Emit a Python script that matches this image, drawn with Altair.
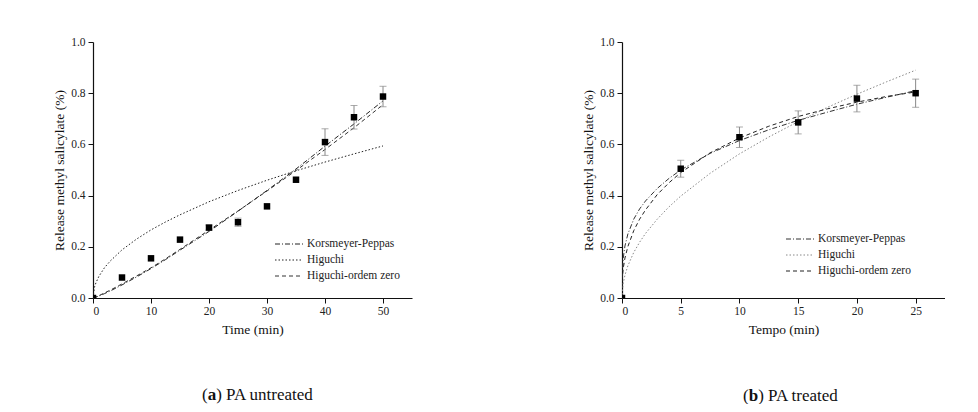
import altair as alt
import pandas as pd

FONT = "Liberation Serif"

# ---------- Panel (a): PA untreated ----------
t_a = [0, 5, 10, 15, 20, 25, 30, 35, 40, 45, 50]
y_a = [0.0, 0.080, 0.155, 0.228, 0.275, 0.296, 0.358, 0.462, 0.609, 0.706, 0.787]
err_a = [0.0, 0.0, 0.0, 0.0, 0.010, 0.016, 0.0, 0.0, 0.052, 0.046, 0.040]

tc_a = [0, 0.25, 0.5, 1, 2, 3, 5, 7.5, 10, 12.5, 15, 20, 25, 30, 35, 40, 45, 50]
kp_a = [0.0, 0.0015, 0.0034, 0.0076, 0.0173, 0.0279, 0.051, 0.082, 0.115, 0.150,
        0.187, 0.260, 0.339, 0.420, 0.504, 0.593, 0.680, 0.770]
hig_a = [0.0, 0.042, 0.059, 0.084, 0.119, 0.145, 0.188, 0.230, 0.266, 0.297,
         0.325, 0.376, 0.420, 0.460, 0.497, 0.531, 0.563, 0.594]
hoz_a = [0.0, 0.002, 0.004, 0.009, 0.020, 0.031, 0.055, 0.086, 0.118, 0.153,
         0.190, 0.265, 0.340, 0.418, 0.498, 0.580, 0.665, 0.755]

# ---------- Panel (b): PA treated ----------
t_b = [0, 5, 10, 15, 20, 25]
y_b = [0.0, 0.505, 0.628, 0.686, 0.779, 0.800]
err_b = [0.0, 0.033, 0.040, 0.045, 0.052, 0.055]

tc_b = [0, 0.02, 0.1, 0.25, 0.5, 1, 1.5, 2, 3, 4, 5, 7.5, 10, 12.5, 15, 17.5, 20, 22.5, 25]
kp_b = [0.0, 0.095, 0.154, 0.203, 0.250, 0.308, 0.348, 0.379, 0.428, 0.467, 0.500,
        0.565, 0.615, 0.657, 0.694, 0.726, 0.757, 0.784, 0.810]
hig_b = [0.0, 0.025, 0.056, 0.089, 0.126, 0.178, 0.218, 0.252, 0.308, 0.356, 0.398,
         0.487, 0.563, 0.629, 0.689, 0.745, 0.796, 0.844, 0.890]
hoz_b = [0.04, 0.074, 0.114, 0.156, 0.201, 0.263, 0.308, 0.344, 0.404, 0.450, 0.490,
         0.567, 0.625, 0.671, 0.709, 0.739, 0.765, 0.787, 0.805]

models = ["Korsmeyer-Peppas", "Higuchi", "Higuchi-ordem zero"]
y_ticks = [0.0, 0.2, 0.4, 0.6, 0.8, 1.0]
y_title = "Release methyl salicylate (%)"

DASHES = {"Korsmeyer-Peppas": [5, 2, 1, 2], "Higuchi": [1.5, 2], "Higuchi-ordem zero": [4, 3]}

AX = dict(grid=False, tickSize=5, domainColor="#111", tickColor="#111", domainWidth=1.2,
          labelFont=FONT, titleFont=FONT, labelFontSize=11.5, titleFontSize=13.5,
          titleFontWeight="normal", labelColor="#222", titleColor="#111")


def panel(t_pts, y_pts, err_pts, t_curve, curves, colors, xmax, xticks, xtitle,
          W, H, leg_x, leg_y, cap_x, cap_y, letter, rest):
    x_scale = alt.Scale(domain=[0, xmax], nice=False, zero=True)
    y_scale = alt.Scale(domain=[0, 1.0], nice=False)
    x_axis = alt.Axis(values=xticks, format="d", title=xtitle,
                      labelPadding=2, titlePadding=6, **AX)
    y_axis = alt.Axis(values=y_ticks, format=".1f", title=y_title,
                      labelPadding=3, titlePadding=4, **AX)

    pts = pd.DataFrame({"t": t_pts, "y": y_pts, "err": err_pts})
    pts["lo"] = pts["y"] - pts["err"]
    pts["hi"] = pts["y"] + pts["err"]
    errs = pts[pts["err"] > 0]

    layers = []
    for name, vals in zip(models, curves):
        df = pd.DataFrame({"t": t_curve, "y": vals})
        layers.append(
            alt.Chart(df).mark_line(strokeDash=DASHES[name], color=colors[name],
                                    strokeWidth=1, clip=True)
            .encode(x=alt.X("t:Q", scale=x_scale, axis=x_axis),
                    y=alt.Y("y:Q", scale=y_scale, axis=y_axis))
        )
    layers.append(
        alt.Chart(errs).mark_rule(color="#888", strokeWidth=1)
        .encode(x="t:Q", y="lo:Q", y2="hi:Q")
    )
    for col in ["lo", "hi"]:
        layers.append(
            alt.Chart(errs).mark_tick(color="#888", orient="horizontal", size=7, thickness=1)
            .encode(x="t:Q", y=f"{col}:Q")
        )
    layers.append(
        alt.Chart(pts).mark_square(size=42, color="black", opacity=1, clip=True)
        .encode(x="t:Q", y="y:Q")
    )
    # custom legend
    for i, name in enumerate(models):
        yy = leg_y + 16 * i
        leg = pd.DataFrame({"model": [name]})
        layers.append(
            alt.Chart(leg).mark_rule(strokeDash=DASHES[name], color=colors[name], strokeWidth=1)
            .encode(x=alt.value(leg_x), x2=alt.value(leg_x + 28), y=alt.value(yy))
        )
        layers.append(
            alt.Chart(leg).mark_text(align="left", baseline="middle", font=FONT,
                                     fontSize=11.5, color="#222")
            .encode(x=alt.value(leg_x + 32), y=alt.value(yy), text="model:N")
        )
    # caption
    cap = pd.DataFrame({"a": [letter], "b": [rest], "p": ["("]})
    layers.append(
        alt.Chart(cap).mark_text(align="left", baseline="alphabetic", font=FONT,
                                 fontSize=17, color="#111")
        .encode(x=alt.value(cap_x), y=alt.value(cap_y), text="p:N")
    )
    layers.append(
        alt.Chart(cap).mark_text(align="left", baseline="alphabetic", font=FONT,
                                 fontSize=17, fontWeight="bold", color="#111")
        .encode(x=alt.value(cap_x + 5.7), y=alt.value(cap_y), text="a:N")
    )
    layers.append(
        alt.Chart(cap).mark_text(align="left", baseline="alphabetic", font=FONT,
                                 fontSize=17, color="#111")
        .encode(x=alt.value(cap_x + 5.7 + (8.5 if letter == "a" else 9.5)),
                y=alt.value(cap_y), text="b:N")
    )
    return alt.layer(*layers).properties(width=W, height=H)


left = panel(t_a, y_a, err_a, tc_a, [kp_a, hig_a, hoz_a],
             {"Korsmeyer-Peppas": "#222", "Higuchi": "#222", "Higuchi-ordem zero": "#333"},
             55, [0, 10, 20, 30, 40, 50], "Time (min)", 319, 256,
             182, 202, 109, 358, "a", ") PA untreated")
right = panel(t_b, y_b, err_b, tc_b, [kp_b, hig_b, hoz_b],
              {"Korsmeyer-Peppas": "#333", "Higuchi": "#888", "Higuchi-ordem zero": "#222"},
              27.5, [0, 5, 10, 15, 20, 25], "Tempo (min)", 323, 256,
              164, 197, 121, 359, "b", ") PA treated")

chart = alt.hconcat(left, right, spacing=169).properties(
    padding={"left": 52, "top": 36, "right": 0, "bottom": 0},
    background="white"
).configure_view(stroke=None)

chart.save("out.html", embed_options={"renderer": "svg", "actions": False})
